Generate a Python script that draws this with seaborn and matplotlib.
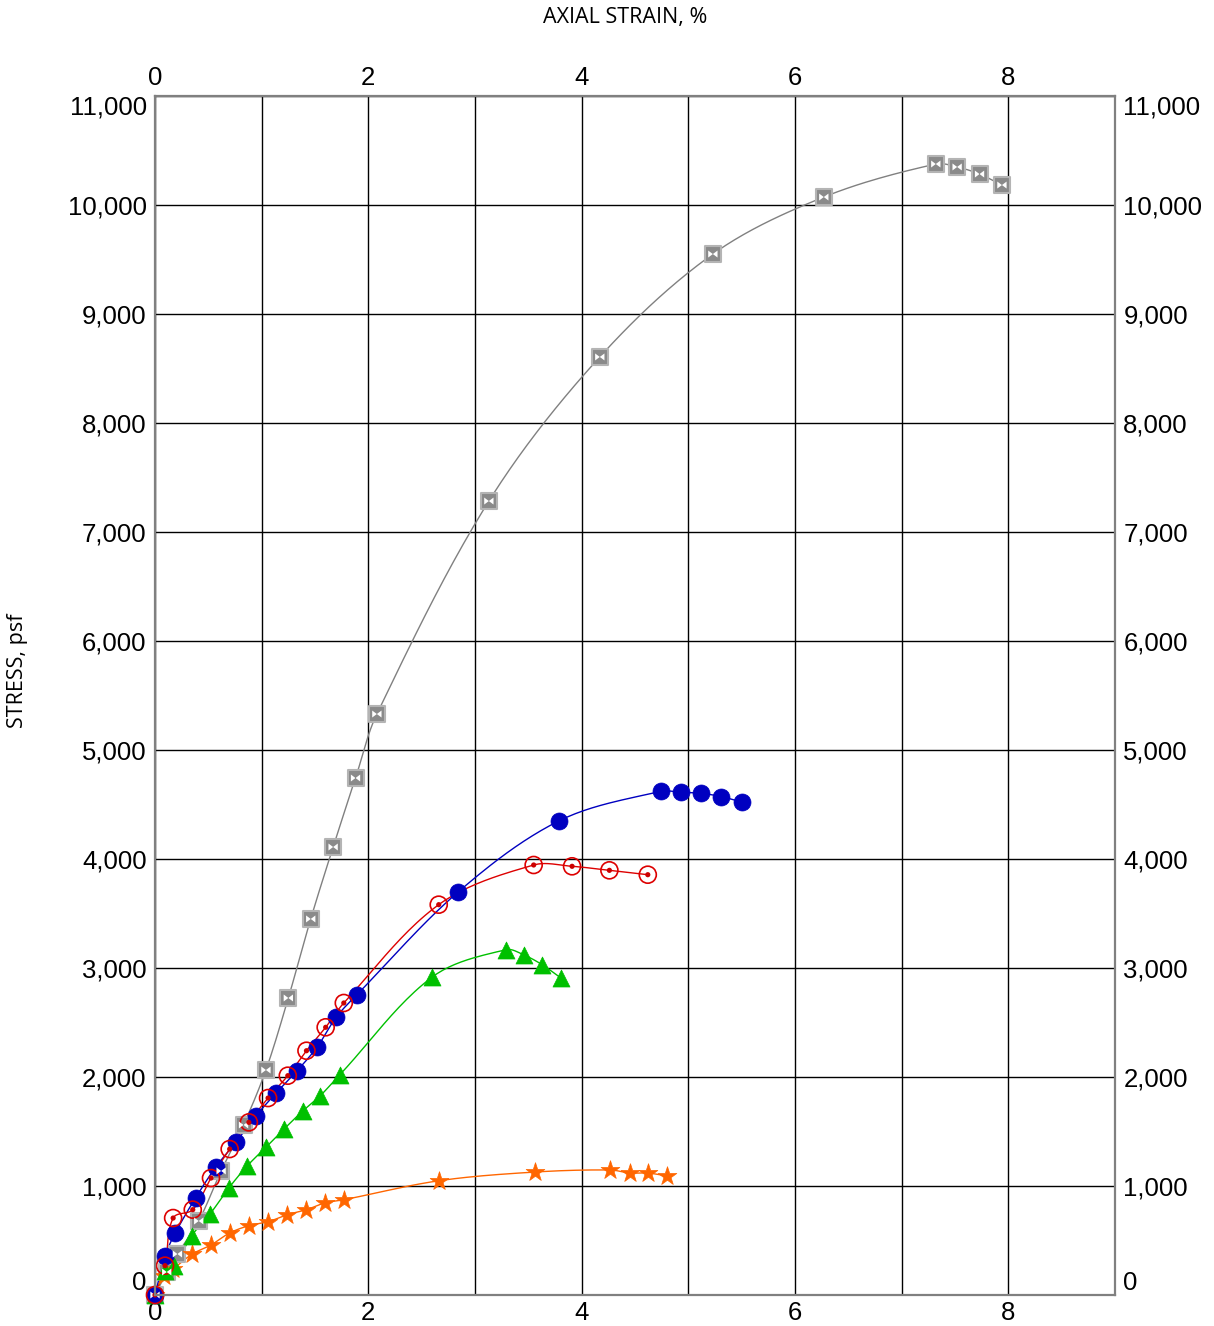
import numpy as np
import pandas as pd
import matplotlib
matplotlib.use("Agg")
import matplotlib.pyplot as plt
import seaborn as sns

# valores (deformacao axial %, tensao psf)
gray_x = [0, 0.11, 0.21, 0.41, 0.62, 0.83, 1.04, 1.25, 1.46, 1.67, 1.88, 2.08,
          3.13, 4.17, 5.23, 6.27, 7.32, 7.52, 7.73, 7.94]
gray_y = [0, 211, 376, 679, 1138, 1560, 2064, 2725, 3450, 4110, 4743, 5330,
          7284, 8606, 9550, 10073, 10376, 10349, 10284, 10183]

blue_x = [0, 0.094, 0.19, 0.38, 0.57, 0.76, 0.945, 1.135, 1.33, 1.52, 1.70, 1.89,
          2.845, 3.79, 4.74, 4.93, 5.12, 5.31, 5.50]
blue_y = [0, 358, 569, 890, 1174, 1404, 1642, 1853, 2055, 2275, 2550, 2752,
          3700, 4351, 4621, 4612, 4603, 4572, 4523]

red_x = [0, 0.094, 0.17, 0.354, 0.525, 0.70, 0.88, 1.06, 1.245, 1.42, 1.60, 1.77,
         2.66, 3.55, 3.91, 4.26, 4.62]
red_y = [0, 269, 706, 783, 1073, 1339, 1584, 1807, 2012, 2241, 2456, 2679,
         3581, 3945, 3933, 3896, 3856]

green_x = [0, 0.094, 0.18, 0.344, 0.516, 0.69, 0.866, 1.04, 1.21, 1.385, 1.55, 1.73,
           2.596, 3.29, 3.46, 3.63, 3.81]
green_y = [0, 223, 269, 544, 743, 979, 1186, 1355, 1523, 1688, 1829, 2018,
           2915, 3168, 3119, 3030, 2905]

orange_x = [0, 0.084, 0.17, 0.35, 0.525, 0.70, 0.88, 1.06, 1.24, 1.42, 1.59, 1.77,
            2.66, 3.56, 4.27, 4.45, 4.62, 4.80]
orange_y = [0, 177, 239, 376, 459, 569, 636, 672, 737, 783, 844, 874,
            1048, 1128, 1147, 1119, 1119, 1092]

x_ticks = [0, 2, 4, 6, 8]
y_ticks = list(range(0, 11001, 1000))
y_labels = [f"{v:,}" for v in y_ticks]

# escala aproximada px por unidade, so para a suavizacao ficar parecida na tela
SX, SY = 106.6, 0.109


# linha suavizada (bezier com tangentes pelos vizinhos) entre os pontos medidos
def suavizar(xs, ys, n=24):
    p = np.column_stack([np.array(xs) * SX, np.array(ys) * SY]).astype(float)
    k = len(p)
    d = np.zeros_like(p)
    for i in range(k):
        a = p[max(i - 1, 0)]
        b = p[min(i + 1, k - 1)]
        v = b - a
        nv = np.hypot(*v)
        d[i] = v / nv if nv > 0 else 0
    out = []
    t = np.linspace(0, 1, n, endpoint=False)[:, None]
    for i in range(k - 1):
        L = np.hypot(*(p[i + 1] - p[i]))
        c0 = p[i]
        c1 = p[i] + d[i] * L / 3
        c2 = p[i + 1] - d[i + 1] * L / 3
        c3 = p[i + 1]
        out.append((1 - t)**3 * c0 + 3 * (1 - t)**2 * t * c1 + 3 * (1 - t) * t**2 * c2 + t**3 * c3)
    out.append(p[-1][None, :])
    c = np.vstack(out)
    return c[:, 0] / SX, c[:, 1] / SY


sns.set_style("white")
plt.rcParams["font.family"] = ["Liberation Sans", "DejaVu Sans"]

fig = plt.figure(figsize=(12.14, 13.26), dpi=100)
ax = fig.add_axes([155 / 1214, 31 / 1326, 960 / 1214, 1199 / 1326])

bowtie = [(-1, -0.75), (-1, 0.75), (1, -0.75), (1, 0.75)]

series = [
    (gray_x, gray_y, "#808080"),
    (orange_x, orange_y, "#ff6600"),
    (green_x, green_y, "#00c000"),
    (blue_x, blue_y, "#0000c0"),
    (red_x, red_y, "#dd0000"),
]
for xs, ys, cor in series:
    cx, cy = suavizar(xs, ys)
    sns.lineplot(x=cx, y=cy, sort=False, estimator=None, color=cor, lw=1, ax=ax, zorder=3)

# marcadores
sns.scatterplot(x=gray_x, y=gray_y, marker="s", s=130, color="#8a8a8a",
                edgecolor="#b4b4b4", linewidth=1.5, ax=ax, zorder=4, clip_on=False)
sns.scatterplot(x=gray_x, y=gray_y, marker=bowtie, s=45, color="white",
                edgecolor="none", ax=ax, zorder=5, clip_on=False)
sns.scatterplot(x=orange_x, y=orange_y, marker="*", s=200, color="#ff6600",
                edgecolor="#ff6600", linewidth=0.5, ax=ax, zorder=4, clip_on=False)
sns.scatterplot(x=green_x, y=green_y, marker="^", s=150, color="#00c000",
                edgecolor="#00c000", linewidth=0.5, ax=ax, zorder=4, clip_on=False)
sns.scatterplot(x=blue_x, y=blue_y, marker="o", s=150, color="#0000c0",
                edgecolor="#0000c0", linewidth=0.5, ax=ax, zorder=4, clip_on=False)
sns.scatterplot(x=red_x, y=red_y, marker="o", s=150, color="none",
                edgecolor="#dd0000", linewidth=1.2, ax=ax, zorder=4, clip_on=False)
sns.scatterplot(x=red_x, y=red_y, marker="o", s=14, color="#cc0000",
                edgecolor="none", ax=ax, zorder=5, clip_on=False)

ax.set_xlim(0, 9)
ax.set_ylim(0, 11000)
ax.set_xticks(x_ticks)
ax.set_xticks([1, 3, 5, 7, 9], minor=True)
ax.set_yticks(y_ticks)
ax.set_yticklabels(y_labels)
ax.grid(True, which="both", color="black", lw=1, zorder=1)
ax.set_axisbelow(True)
ax.tick_params(which="both", length=0, labelsize=18.5, labelcolor="black")
ax.tick_params(axis="x", top=True, labeltop=True, pad=4.5)
ax.tick_params(axis="y", right=True, labelright=True, pad=6)
for s in ax.spines.values():
    s.set_color("#808080")
    s.set_linewidth(1.6)
    s.set_zorder(6)

# primeiro e ultimo rotulo do eixo y ficam dentro da area
ticks = ax.yaxis.get_major_ticks()
for lbl in (ticks[0].label1, ticks[0].label2):
    lbl.set_verticalalignment("bottom")
for lbl in (ticks[-1].label1, ticks[-1].label2):
    lbl.set_verticalalignment("top")

fig.text(625 / 1214, 1 - 18 / 1326, "AXIAL STRAIN, %", ha="center", va="center",
         fontsize=15.5, family="Open Sans", color="black")
fig.text(18 / 1214, 1 - 671 / 1326, "STRESS, psf", ha="center", va="center",
         rotation=90, fontsize=15.5, family="Open Sans", color="black")

fig.savefig("out.png", dpi=100)
